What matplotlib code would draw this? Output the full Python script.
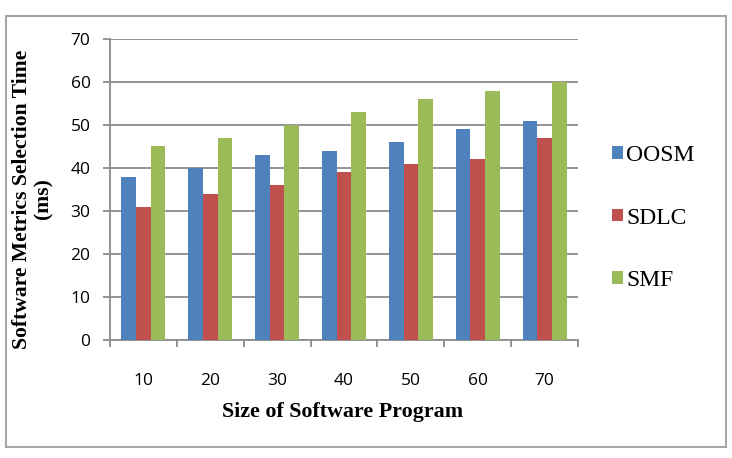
"""Grouped bar chart: software metrics selection time"""
import matplotlib.pyplot as plt
import numpy as np
from matplotlib.patches import Rectangle

sizes = ['10', '20', '30', '40', '50', '60', '70']
series = ['OOSM', 'SDLC', 'SMF']
oosm = [38, 40, 43, 44, 46, 49, 51]
sdlc = [31, 34, 36, 39, 41, 42, 47]
smf = [45, 47, 50, 53, 56, 58, 60]
colors = ['#4F81BD', '#C0504D', '#9BBB59']

W, H = 732, 458
fig = plt.figure(figsize=(W / 100, H / 100), dpi=100)

# outer chart border
fig.patches.append(Rectangle((6 / W, 1 - 447 / H), 720 / W, 431 / H,
                             transform=fig.transFigure, fill=False,
                             edgecolor='#a6a6a6', lw=1.5))

ax = fig.add_axes([110 / W, 1 - 340 / H, 468 / W, 301 / H])

x = np.arange(len(sizes))
width = 0.22
for i, (vals, name) in enumerate(zip([oosm, sdlc, smf], series)):
    ax.bar(x + (i - 1) * width, vals, width, color=colors[i], label=name, zorder=3)

ax.set_xlim(-0.5, len(sizes) - 0.5)
ax.set_ylim(0, 70)
ax.set_yticks(range(0, 71, 10))
ax.yaxis.grid(True, color='#8c8c8c', lw=1.3, zorder=0)

for side in ['top', 'right']:
    ax.spines[side].set_visible(False)
for side in ['left', 'bottom']:
    ax.spines[side].set_color('#8c8c8c')
    ax.spines[side].set_linewidth(1.3)

ax.set_xticks(x)
ax.set_xticklabels(sizes, family='Open Sans', fontsize=12.5)
ax.set_xticks(np.arange(len(sizes) + 1) - 0.5, minor=True)
ax.tick_params(axis='x', which='major', length=0, pad=24)
ax.tick_params(axis='x', which='minor', length=5, color='#8c8c8c', width=1.3)
ax.tick_params(axis='y', length=5, color='#8c8c8c', width=1.3, pad=9)
for lab in ax.get_yticklabels():
    lab.set_family('Open Sans')
    lab.set_fontsize(12.5)

fig.text(343 / W, 1 - 412 / H, 'Size of Software Program', ha='center', va='center',
         family='Liberation Serif', fontweight='bold', fontsize=15.8)
fig.text(33 / W, 1 - 199 / H, 'Software Metrics Selection Time\n(ms)', ha='center',
         va='center', rotation=90, family='Liberation Serif', fontweight='bold',
         fontsize=15.6, linespacing=1.1)

ax.legend(loc='center left', bbox_to_anchor=(612 / W, 1 - 218 / H),
          bbox_transform=fig.transFigure, frameon=False,
          prop={'family': 'Liberation Serif', 'size': 17},
          handlelength=0.45, handleheight=0.45, handletextpad=0.15,
          labelspacing=1.75, borderaxespad=0, borderpad=0)

fig.savefig('out.png', dpi=100)
